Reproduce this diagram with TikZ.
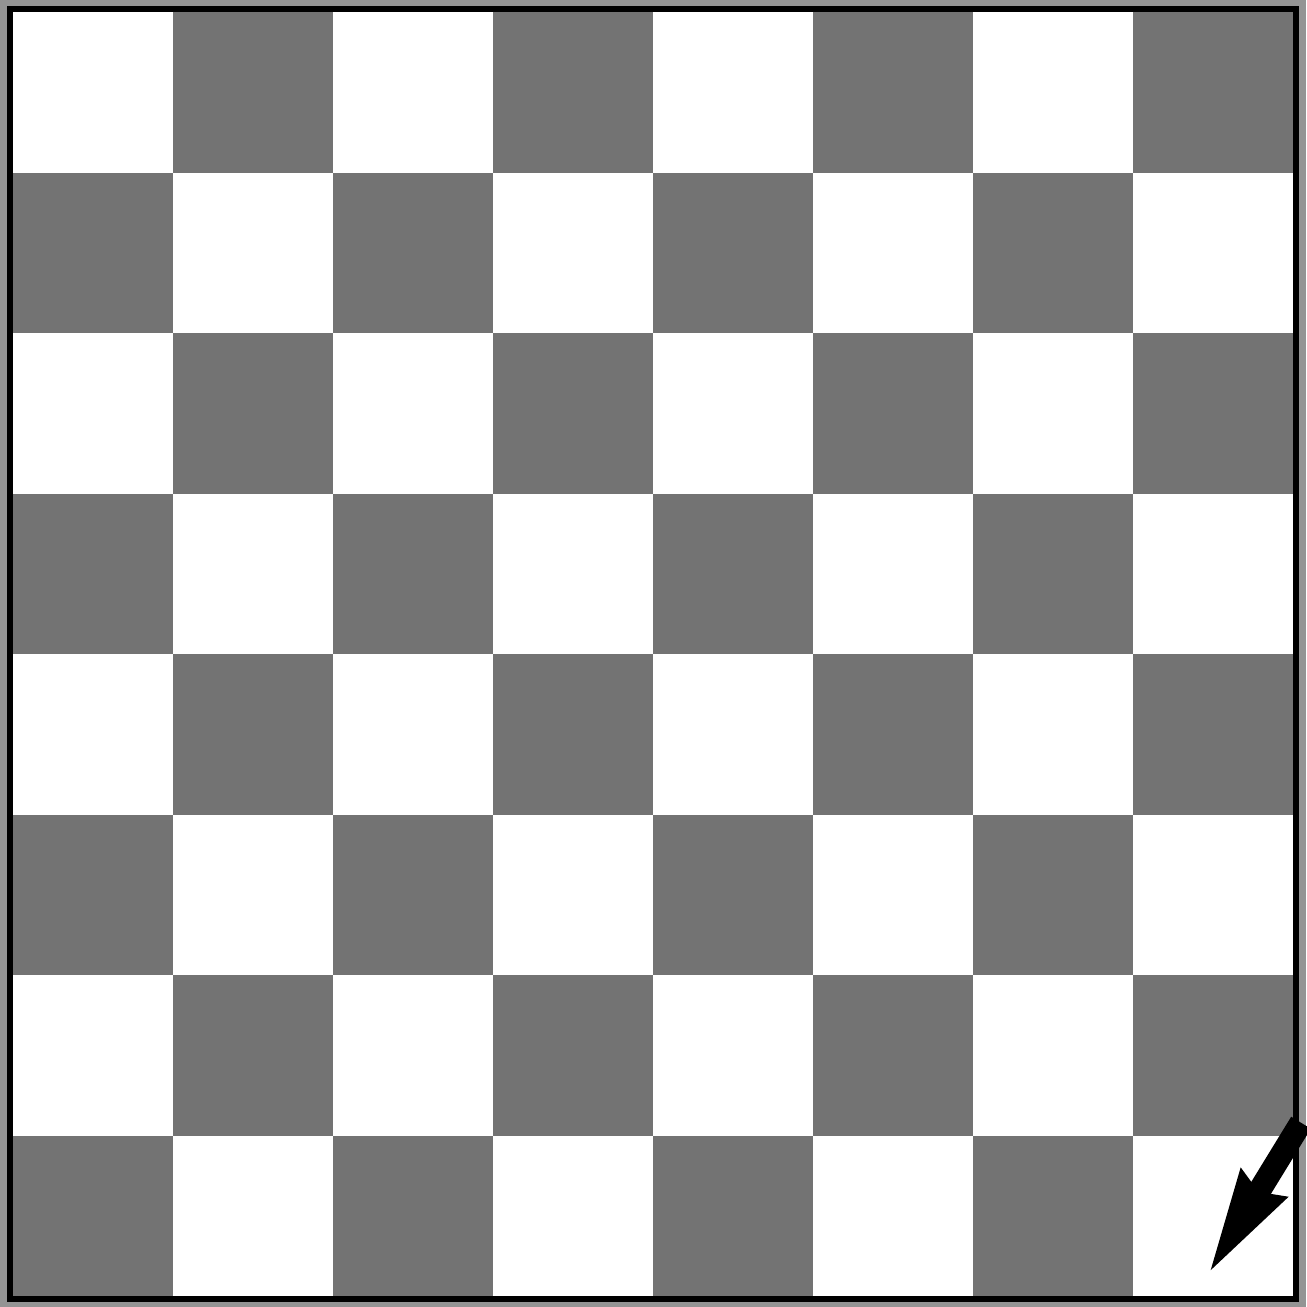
\documentclass[tikz,border=0pt]{standalone}
\usetikzlibrary{arrows.meta}

\begin{document}
\begin{tikzpicture}[
  x=3.2cm, y=3.21cm,
  dsq/.style={fill=black!55},                        % dark square
  outband/.style={draw=black!42, line width=1.4mm},  % grey band round the board
  bframe/.style={draw=black, line width=1.2mm},      % board frame
  movearrow/.style={-{Stealth[length=21mm, width=9.6mm, inset=1.2mm]}, line width=4.6mm, draw=black},
]
\useasboundingbox (-0.081,-0.0625) rectangle (8.0875,8.075);

% ============================== squares ==============================
\foreach \i in {0,...,7}{ \foreach \j in {0,...,7}{
  \pgfmathtruncatemacro{\s}{mod(\i+\j,2)}
  \ifnum\s=0 \fill[dsq] (\i,\j) rectangle ++(1,1); \fi
}}

% ============================== frame ==============================
\draw[outband] (-0.059,-0.045) rectangle (8.06,8.05);
\draw[bframe] (-0.019,-0.019) rectangle (8.019,8.019);

% ============================== arrow ==============================
\coordinate (astart) at (8.05,1.08);
\coordinate (atip) at (7.46,0.12);
\draw[movearrow] (astart) -- (atip);
\end{tikzpicture}
\end{document}
